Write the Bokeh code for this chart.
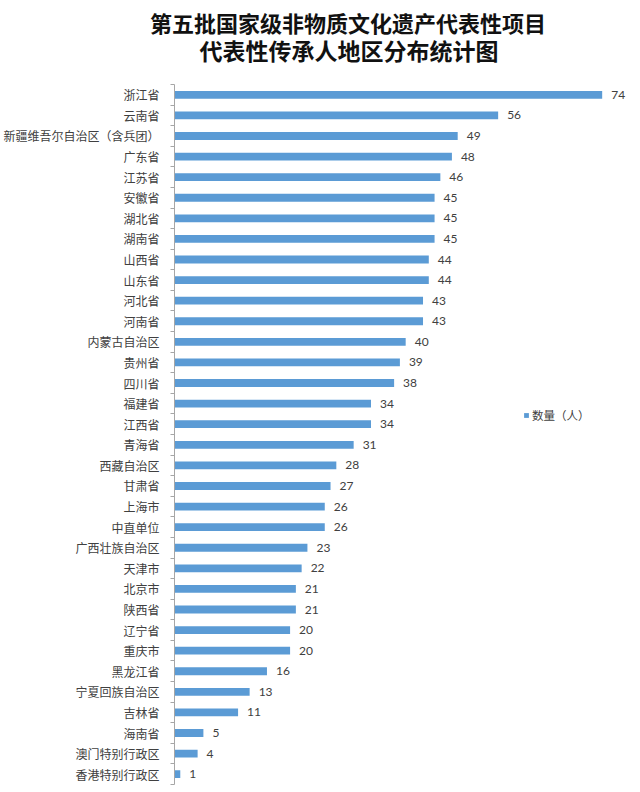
from bokeh.plotting import figure
from bokeh.layouts import column
from bokeh.models import (ColumnDataSource, Range1d, FixedTicker, Legend, LegendItem)
from bokeh.core.properties import value
from bokeh.embed import file_html
from bokeh.resources import INLINE

title_line1 = "第五批国家级非物质文化遗产代表性项目"
title_line2 = "代表性传承人地区分布统计图"
series_name = "数量（人）"

regions = ["浙江省", "云南省", "新疆维吾尔自治区（含兵团）", "广东省", "江苏省", "安徽省",
           "湖北省", "湖南省", "山西省", "山东省", "河北省", "河南省", "内蒙古自治区",
           "贵州省", "四川省", "福建省", "江西省", "青海省", "西藏自治区", "甘肃省",
           "上海市", "中直单位", "广西壮族自治区", "天津市", "北京市", "陕西省",
           "辽宁省", "重庆市", "黑龙江省", "宁夏回族自治区", "吉林省", "海南省",
           "澳门特别行政区", "香港特别行政区"]
counts = [74, 56, 49, 48, 46, 45, 45, 45, 44, 44, 43, 43, 40, 39, 38, 34, 34, 31,
          28, 27, 26, 26, 23, 22, 21, 21, 20, 20, 16, 13, 11, 5, 4, 1]

n = len(regions)
pos = list(range(n))
src = ColumnDataSource(dict(y=pos, v=counts, lbl=[str(c) for c in counts], name=regions))

CJK = "Noto Sans CJK SC"
TXT = "#404040"
LEFT, RIGHT = 169, 10

# ---- title block (full-width frame; data units == screen pixels) ----
t = figure(width=640, height=84, output_backend="svg", toolbar_location=None,
           x_range=Range1d(0, 640), y_range=Range1d(84, 0),
           x_axis_location=None, y_axis_location=None,
           min_border_left=0, min_border_right=0, min_border_top=0, min_border_bottom=0)
t.frame_align = False
t.outline_line_color = None
t.xgrid.visible = False
t.ygrid.visible = False
t.text(x=[347.5], y=[21], text=[title_line1], text_align="center", text_baseline="middle",
       text_font=value(CJK), text_font_size="22px", text_font_style="bold", text_color="#111111")
t.text(x=[348.5], y=[49.5], text=[title_line2], text_align="center", text_baseline="middle",
       text_font=value(CJK), text_font_size="23px", text_font_style="bold", text_color="#111111")

# ---- chart ----
p = figure(width=640, height=708, output_backend="svg", toolbar_location=None,
           x_range=Range1d(0, 78.9), y_range=Range1d(n - 0.5, -0.5),
           x_axis_location=None,
           min_border_left=LEFT, min_border_right=RIGHT, min_border_top=0, min_border_bottom=8)
p.frame_align = False
p.outline_line_color = None
p.xgrid.visible = False
p.ygrid.visible = False

bars = p.hbar(y="y", right="v", left=0, height=0.38, source=src,
              fill_color="#5B9BD5", line_color=None)

p.text(x="v", y="y", text="lbl", source=src, x_offset=9, text_baseline="middle",
       text_align="left", text_font=value("Lato"), text_font_size="12px", text_color=TXT)

ya = p.yaxis[0]
ya.ticker = FixedTicker(ticks=pos, minor_ticks=[i - 0.5 for i in range(n + 1)])
ya.major_label_overrides = {i: r for i, r in zip(pos, regions)}
ya.major_tick_out = 0
ya.major_tick_in = 0
ya.minor_tick_out = 4
ya.minor_tick_in = 0
ya.minor_tick_line_color = "#a6a6a6"
ya.axis_line_color = "#a6a6a6"
ya.major_label_standoff = 11
ya.major_label_text_font = CJK
ya.major_label_text_font_size = "12px"
ya.major_label_text_color = TXT

legend = Legend(items=[LegendItem(label=series_name, renderers=[bars])],
                location=(349, 361), orientation="vertical",
                padding=0, margin=0, spacing=0, glyph_width=6, glyph_height=6,
                label_standoff=3, label_height=12,
                label_text_font=CJK, label_text_font_size="11.5px", label_text_color=TXT,
                border_line_color=None, background_fill_alpha=0)
p.add_layout(legend)

layout = column(t, p, spacing=0)
open("out.html", "w").write(file_html(layout, INLINE))
